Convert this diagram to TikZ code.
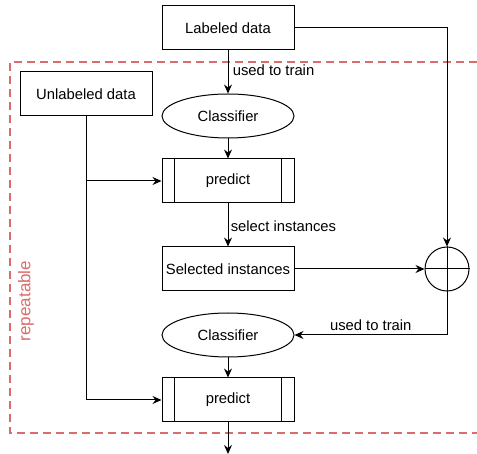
\documentclass[tikz,border=0pt]{standalone}
\usepackage{fontspec}
\setmainfont{Liberation Sans}
\usetikzlibrary{arrows.meta,shapes.geometric}
\definecolor{loopred}{RGB}{218,108,108}
\begin{document}
\begin{tikzpicture}[x=1pt,y=-1pt,
  font=\fontsize{14.8}{17}\selectfont,
  box/.style={draw,line width=1pt,minimum width=132pt,minimum height=44pt,inner sep=0pt,anchor=center},
  ellip/.style={draw,ellipse,line width=1pt,minimum width=132pt,minimum height=44pt,inner sep=0pt},
  conn/.style={line width=1pt,-{Stealth[length=9pt,width=8pt,inset=3pt]}},
  plain/.style={line width=1pt},
  loop/.style={draw=loopred,line width=2pt,dash pattern=on 8pt off 5pt}]
\useasboundingbox (0,0) rectangle (477,454);
% repeatable region (open to the right)
\draw[loop] (477,62) -- (10,62) -- (10,433) -- (477,433);
\node[text=loopred,rotate=90,font=\fontsize{17}{20}\selectfont] (rep) at (26,301) {repeatable};
% nodes
\node[box] (lab) at (228,28) {Labeled data};
\node[box] (unl) at (86,94) {Unlabeled data};
\node[ellip] (cls1) at (228,116) {Classifier};
\node[box] (pr1) at (228,181) {predict};
\draw[plain] ([xshift=13pt]pr1.north west) -- ([xshift=13pt]pr1.south west);
\draw[plain] ([xshift=-13pt]pr1.north east) -- ([xshift=-13pt]pr1.south east);
\node[box] (sel) at (228,269) {Selected instances};
\node[draw,circle,line width=1pt,minimum size=44pt,inner sep=0pt] (sum) at (447,269) {};
\draw[plain] (sum.north) -- (sum.south) (sum.west) -- (sum.east);
\node[ellip] (cls2) at (228,335) {Classifier};
\node[box] (pr2) at (228,400) {predict};
\draw[plain] ([xshift=13pt]pr2.north west) -- ([xshift=13pt]pr2.south west);
\draw[plain] ([xshift=-13pt]pr2.north east) -- ([xshift=-13pt]pr2.south east);
\coordinate (out) at (228,454);
\coordinate (split) at (86,181);
% connectors
\draw[conn] (lab) -- node[right,pos=0.45,xshift=1pt] {used to train} (cls1);
\draw[conn] (cls1) -- (pr1);
\draw[conn] (pr1) -- node[right,xshift=-1pt,yshift=-1pt] {select instances} (sel);
\draw[conn] (sel) -- (sum);
\draw[conn] (lab.east) -| (sum.north);
\draw[conn] (sum.south) |- node[pos=0.75,above,yshift=1pt] {used to train} (cls2.east);
\draw[conn] (cls2) -- (pr2);
\draw[conn] (unl.south) |- (pr2.west);
\draw[conn] (split) -- (pr1.west);
\draw[conn] (pr2) -- (out);
\end{tikzpicture}
\end{document}
